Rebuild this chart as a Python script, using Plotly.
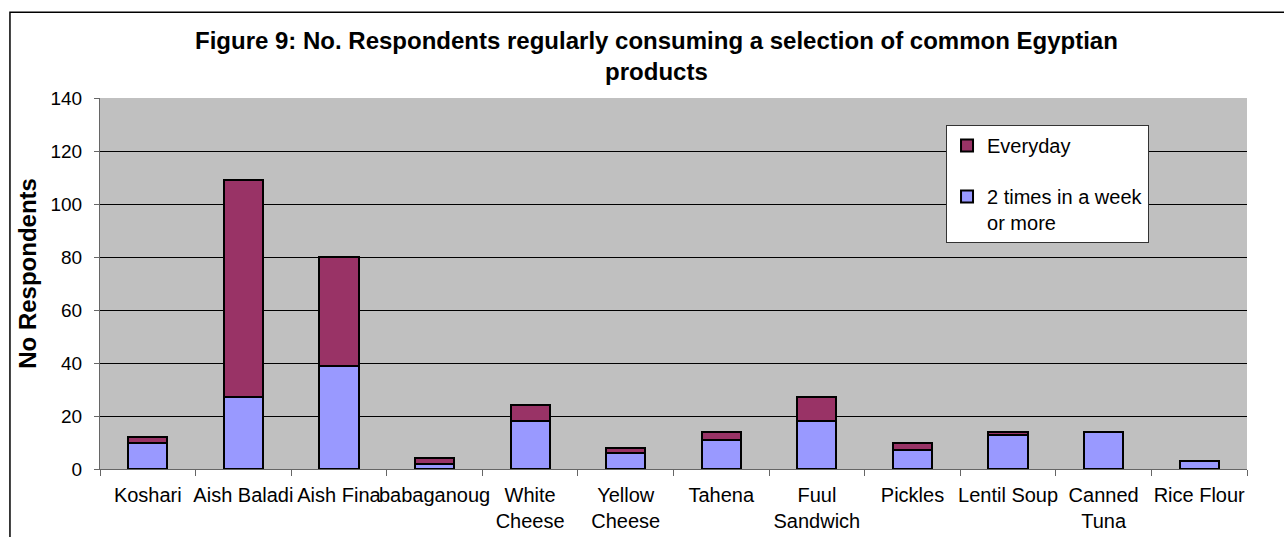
import plotly.graph_objects as go

categories = ["Koshari", "Aish Baladi", "Aish Fina", "babaganoug", "White Cheese",
              "Yellow Cheese", "Tahena", "Fuul Sandwich", "Pickles", "Lentil Soup",
              "Canned Tuna", "Rice Flour"]
tick_labels = ["Koshari", "Aish Baladi", "Aish Fina", "babaganoug", "White<br>Cheese",
               "Yellow<br>Cheese", "Tahena", "Fuul<br>Sandwich", "Pickles", "Lentil Soup",
               "Canned<br>Tuna", "Rice Flour"]
twice_weekly = [10, 27, 39, 2, 18, 6, 11, 18, 7, 13, 14, 3]
everyday = [2, 82, 41, 2, 6, 2, 3, 9, 3, 1, 0, 0]
y_ticks = [0, 20, 40, 60, 80, 100, 120, 140]

FONT = "Liberation Sans, Arial, sans-serif"

fig = go.Figure()
fig.add_trace(go.Bar(
    x=categories, y=twice_weekly, name="2 times in a week<br>or more",
    marker=dict(color="#9999FF", line=dict(color="black", width=2)),
    width=0.41, legendgroup="b", legendrank=2))
fig.add_trace(go.Bar(
    x=categories, y=everyday, name="Everyday",
    marker=dict(color="#993366", line=dict(color="black", width=2)),
    width=0.41, legendgroup="a", legendrank=1))

fig.update_layout(
    barmode="stack",
    width=1284, height=537,
    margin=dict(l=100, r=37, t=98, b=68),
    paper_bgcolor="white",
    plot_bgcolor="#C0C0C0",
    font=dict(family=FONT, size=19, color="black"),
    legend=dict(x=0.7376, y=0.927, xanchor="left", yanchor="top",
                bgcolor="white", bordercolor="#333", borderwidth=1,
                traceorder="grouped", tracegroupgap=22, valign="top",
                font=dict(size=20, family=FONT)),
    showlegend=True,
)
fig.update_xaxes(
    type="category", tickmode="array", tickvals=categories, ticktext=tick_labels,
    showline=True, linecolor="#666", linewidth=1, automargin=False, tickangle=0,
    ticks="outside", tickson="boundaries", ticklen=6, tickcolor="#666",
    showgrid=False, tickfont=dict(size=20), ticklabelstandoff=8)
fig.update_yaxes(
    range=[0, 140], tickmode="array", tickvals=y_ticks, automargin=False,
    showline=True, linecolor="#666", linewidth=1,
    ticks="outside", ticklen=5, tickcolor="#666",
    showgrid=True, gridcolor="black", gridwidth=1, zeroline=False,
    tickfont=dict(size=19), ticklabelstandoff=8)

# chart title
fig.add_annotation(
    text="<b>Figure 9: No. Respondents regularly consuming a selection of common Egyptian<br>products</b>",
    xref="paper", yref="paper", x=0.4856, y=1.1134, xanchor="center", yanchor="middle",
    showarrow=False, font=dict(size=24, family=FONT))
# y-axis title
fig.add_annotation(
    text="<b>No Respondents</b>", textangle=-90,
    xref="paper", yref="paper", x=(27.5 - 100) / 1147, y=(468.5 - 273) / 370.5,
    xanchor="center", yanchor="middle", showarrow=False, font=dict(size=24, family=FONT))

# outer chart border (only left and top visible)
fig.add_shape(type="rect", xref="paper", yref="paper",
              x0=-0.0785, y0=-0.5, x1=1.2, y1=1.2313,
              line=dict(color="black", width=1.5), fillcolor="rgba(0,0,0,0)", layer="below")

fig.write_html("out.html")
